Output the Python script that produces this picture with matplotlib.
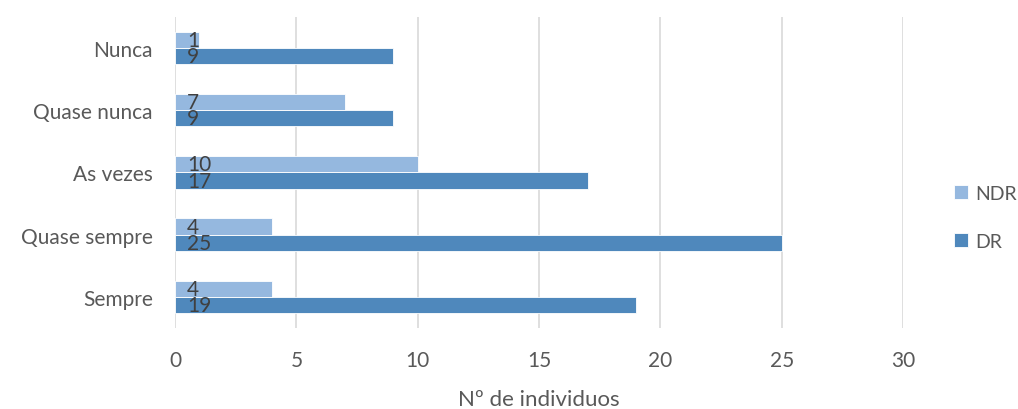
import numpy as np
import matplotlib.pyplot as plt

# dados
categorias = ['Sempre', 'Quase sempre', 'As vezes', 'Quase nunca', 'Nunca']
dr = [19, 25, 17, 9, 9]
ndr = [4, 4, 10, 7, 1]

cor_dr = '#4f88bc'
cor_ndr = '#95b8df'

plt.rcParams['font.family'] = ['Lato', 'DejaVu Sans']

fig = plt.figure(figsize=(10.18, 4.10), dpi=100)
ax = fig.add_axes([0.172, 0.198, 0.715, 0.758])

y = np.arange(len(categorias))
h = 0.26

b_dr = ax.barh(y - h / 2, dr, height=h, color=cor_dr, edgecolor='white', linewidth=0.6, label='DR', zorder=3)
b_ndr = ax.barh(y + h / 2, ndr, height=h, color=cor_ndr, edgecolor='white', linewidth=0.6, label='NDR', zorder=3)

# rotulos na base das barras
for barras, vals in [(b_dr, dr), (b_ndr, ndr)]:
    for b, v in zip(barras, vals):
        ax.text(0.5, b.get_y() + b.get_height() / 2, str(v), ha='left', va='center',
                fontsize=15, color='#404040', zorder=4)

ax.set_xlim(0, 30)
ax.set_ylim(-0.5, len(categorias) - 0.5)
ax.set_xticks(range(0, 31, 5))
ax.set_yticks(y)
ax.set_yticklabels(categorias)
ax.tick_params(axis='both', length=0, labelsize=15, colors='#595959')
ax.tick_params(axis='x', pad=16)
ax.tick_params(axis='y', pad=16)
ax.xaxis.grid(True, color='#d9d9d9', linewidth=1.2, zorder=0)
for s in ax.spines.values():
    s.set_visible(False)

ax.set_xlabel('Nº de individuos', fontsize=16, color='#595959', labelpad=14)

handles, labels = ax.get_legend_handles_labels()
fig.legend(handles[::-1], labels[::-1], loc='center left', bbox_to_anchor=(0.92, 0.467),
           frameon=False, fontsize=14, labelcolor='#595959', handlelength=0.7, handleheight=0.7,
           handletextpad=0.4, labelspacing=1.6)

fig.savefig('out.png', dpi=100)
